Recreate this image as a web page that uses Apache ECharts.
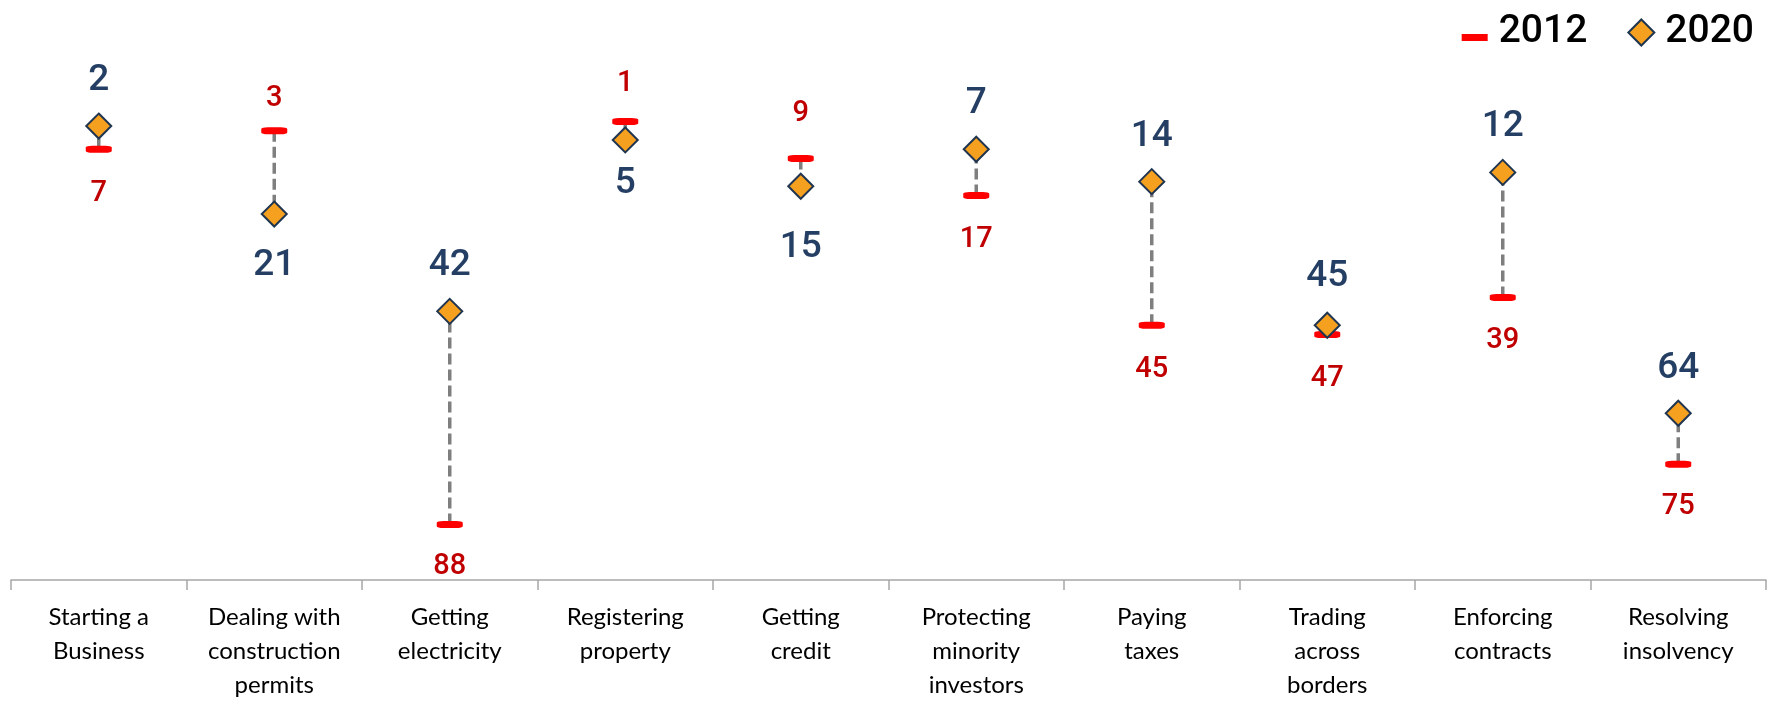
<!DOCTYPE html>
<html>
<head>
<meta charset="utf-8">
<script src="https://cdn.jsdelivr.net/npm/echarts@6/dist/echarts.min.js"></script>
<style>html,body{margin:0;padding:0;background:#fff}#c{width:1775px;height:703px}</style>
</head>
<body>
<div id="c"></div>
<script>
const categories = ['Starting a\nBusiness','Dealing with\nconstruction\npermits','Getting\nelectricity','Registering\nproperty','Getting\ncredit','Protecting\nminority\ninvestors','Paying\ntaxes','Trading\nacross\nborders','Enforcing\ncontracts','Resolving\ninsolvency'];
const rank2012 = [7, 3, 88, 1, 9, 17, 45, 47, 39, 75];
const rank2020 = [2, 21, 42, 5, 15, 7, 14, 45, 12, 64];
// label vertical offsets (px) relative to marker
const off2012 = [45, -32, 42, -38, -45, 44, 45, 44, 43, 43];
const off2020 = [-45, 52, -46, 44, 61, -45, -45, -48, -46, -44];

const numFont = 'Roboto, "DejaVu Sans Condensed", sans-serif';
const chart = echarts.init(document.getElementById('c'));
chart.setOption({
  animation: false,
  grid: {left: 11, right: 9, top: 1, bottom: 123},
  legend: {
    right: 16, top: 8, itemGap: 40, itemWidth: 26, itemHeight: 26,
    textStyle: {fontFamily: numFont, fontSize: 39, fontWeight: 500, color: '#000', padding: [0,0,0,6]},
    data: [
      {name: '2012', icon: 'path://M0,0M0,10L26,10L26,17L0,17Z'},
      {name: '2020', icon: 'diamond'}
    ]
  },
  xAxis: {
    type: 'category', data: categories, boundaryGap: true,
    axisLine: {onZero: false, lineStyle: {color: '#A6A6A6', width: 1.5}},
    axisTick: {show: true, interval: 0, length: 10, lineStyle: {color: '#A6A6A6', width: 1.5}},
    axisLabel: {interval: 0, margin: 20, fontFamily: 'Lato, "Open Sans", sans-serif', fontSize: 24, lineHeight: 34, color: '#000'},
    splitLine: {show: false}
  },
  yAxis: {type: 'value', inverse: true, min: -25, max: 100, show: false, splitLine: {show: false}},
  series: [
    {
      type: 'custom', name: 'link', z: 1, silent: true,
      data: categories.map((c, i) => [i, rank2012[i], rank2020[i]]),
      renderItem: function (params, api) {
        const a = api.coord([api.value(0), api.value(1)]);
        const b = api.coord([api.value(0), api.value(2)]);
        return {type: 'line', shape: {x1: a[0], y1: a[1], x2: b[0], y2: b[1]},
          style: {stroke: '#7F7F7F', lineWidth: 3.5, lineDash: [11, 5]}};
      }
    },
    {
      type: 'scatter', name: '2012', z: 3,
      symbol: 'roundRect', symbolSize: [26, 7],
      itemStyle: {color: '#FF0000', opacity: 1},
      data: rank2012.map((v, i) => ({value: [i, v], label: {offset: [0, off2012[i]]}})),
      label: {show: true, position: 'inside', formatter: p => p.value[1],
        fontFamily: numFont, fontSize: 29, fontWeight: 500, color: '#C00000'}
    },
    {
      type: 'scatter', name: '2020', z: 4,
      symbol: 'diamond', symbolSize: 25,
      itemStyle: {color: '#F6A01F', borderColor: '#1F3550', borderWidth: 2, opacity: 1},
      data: rank2020.map((v, i) => ({value: [i, v], label: {offset: [0, off2020[i]]}})),
      label: {show: true, position: 'inside', formatter: p => p.value[1],
        fontFamily: numFont, fontSize: 37, fontWeight: 500, color: '#243F63'}
    }
  ]
});
</script>
</body>
</html>
